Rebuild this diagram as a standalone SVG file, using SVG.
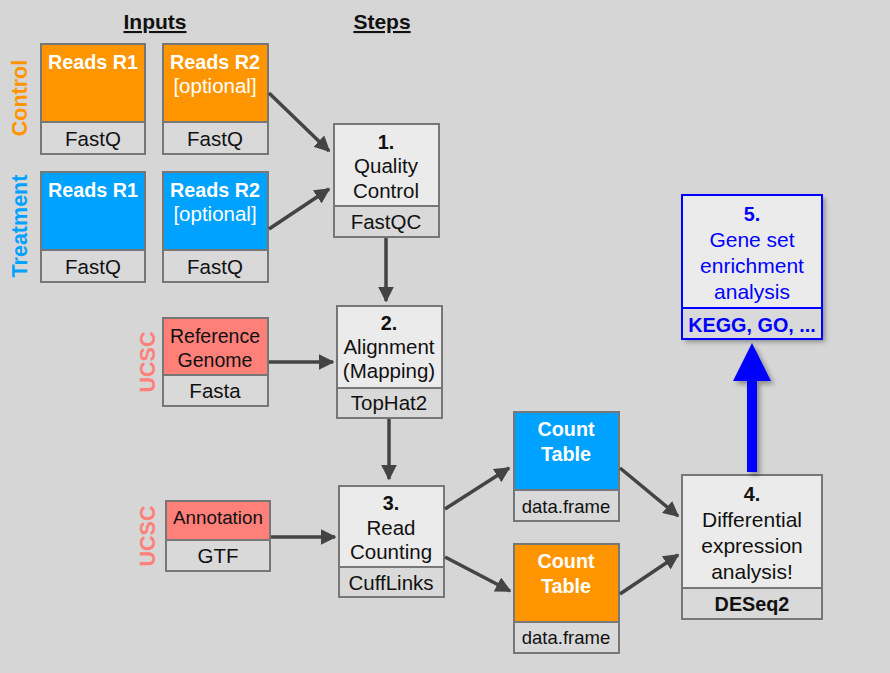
<svg xmlns="http://www.w3.org/2000/svg" width="890" height="673" viewBox="0 0 890 673">
<style>
text{font-family:"Liberation Sans",Arial,sans-serif;text-anchor:middle}
.t{font-size:20.5px;fill:#111}
.b{font-weight:bold;font-size:19.8px}
.w{fill:#fff}
.box{stroke:#777;stroke-width:2}
.top{fill:#ebebeb}
.bot{fill:#d9d9d9}
.or{fill:#ff9500}
.bl{fill:#00a2ff}
.sa{fill:#ff7f79}
.conn{stroke:#444;stroke-width:3.5;fill:none;marker-end:url(#ah)}
.blue{fill:#0000ff}
.v{font-weight:bold;font-size:21.5px}
</style>
<defs>
<marker id="ah" viewBox="0 0 10 10" refX="9" refY="5" markerWidth="4.5" markerHeight="4.5" orient="auto" markerUnits="strokeWidth">
<path d="M0,0 L10,5 L0,10 z" fill="#444"/>
</marker>
<filter id="sh" x="-20%" y="-20%" width="140%" height="140%">
<feDropShadow dx="3" dy="3" stdDeviation="2.5" flood-color="#000" flood-opacity="0.35"/>
</filter>
</defs>
<rect width="890" height="673" fill="#d6d6d6"/>

<g id="headers">
<text x="155" y="29" class="t b" style="font-size:21px;text-decoration:underline">Inputs</text>
<text x="382" y="29" class="t b" style="font-size:21px;text-decoration:underline">Steps</text>
<text transform="translate(27,98) rotate(-90)" class="v" style="fill:#ff9500">Control</text>
<text transform="translate(27,226) rotate(-90)" class="v" style="fill:#00a2ff">Treatment</text>
<text transform="translate(155,362) rotate(-90)" class="v" style="fill:#ff7f79">UCSC</text>
<text transform="translate(155,536) rotate(-90)" class="v" style="fill:#ff7f79">UCSC</text>
</g>

<g id="ctrl-r1">
<rect x="41" y="44" width="104" height="78" class="box or"/>
<rect x="41" y="122" width="104" height="32" class="box bot"/>
<text x="93" y="69" class="t b w">Reads R1</text>
<text x="93" y="146" class="t">FastQ</text>
</g>
<g id="ctrl-r2">
<rect x="163" y="44" width="105" height="78" class="box or"/>
<rect x="163" y="122" width="105" height="32" class="box bot"/>
<text x="215" y="69" class="t b w">Reads R2</text>
<text x="215" y="93" class="t w">[optional]</text>
<text x="215" y="146" class="t">FastQ</text>
</g>
<g id="treat-r1">
<rect x="41" y="172" width="104" height="78" class="box bl"/>
<rect x="41" y="250" width="104" height="32" class="box bot"/>
<text x="93" y="197" class="t b w">Reads R1</text>
<text x="93" y="274" class="t">FastQ</text>
</g>
<g id="treat-r2">
<rect x="163" y="172" width="105" height="78" class="box bl"/>
<rect x="163" y="250" width="105" height="32" class="box bot"/>
<text x="215" y="197" class="t b w">Reads R2</text>
<text x="215" y="221" class="t w">[optional]</text>
<text x="215" y="274" class="t">FastQ</text>
</g>

<g id="qc">
<rect x="334" y="124" width="105" height="82" class="box top"/>
<rect x="334" y="206" width="105" height="31" class="box bot"/>
<text x="386" y="149" class="t b">1.</text>
<text x="386" y="173" class="t">Quality</text>
<text x="386" y="198" class="t">Control</text>
<text x="386" y="229" class="t">FastQC</text>
</g>

<g id="refgenome">
<rect x="163" y="318" width="105" height="57" class="box sa"/>
<rect x="163" y="375" width="105" height="31" class="box bot"/>
<text x="215" y="343" class="t" style="font-size:19.5px">Reference</text>
<text x="215" y="367" class="t" style="font-size:19.5px">Genome</text>
<text x="215" y="398" class="t">Fasta</text>
</g>

<g id="alignment">
<rect x="337" y="306" width="105" height="82" class="box top"/>
<rect x="337" y="388" width="105" height="30" class="box bot"/>
<text x="389" y="330" class="t b">2.</text>
<text x="389" y="354" class="t">Alignment</text>
<text x="389" y="378" class="t">(Mapping)</text>
<text x="389" y="410" class="t">TopHat2</text>
</g>

<g id="annotation">
<rect x="166" y="501" width="104" height="39" class="box sa"/>
<rect x="166" y="540" width="104" height="31" class="box bot"/>
<text x="218" y="524" class="t" style="font-size:18.8px">Annotation</text>
<text x="218" y="563" class="t">GTF</text>
</g>

<g id="counting">
<rect x="339" y="486" width="105" height="81" class="box top"/>
<rect x="339" y="567" width="105" height="30" class="box bot"/>
<text x="391" y="510" class="t b">3.</text>
<text x="391" y="535" class="t">Read</text>
<text x="391" y="559" class="t">Counting</text>
<text x="391" y="590" class="t">CuffLinks</text>
</g>

<g id="count-blue">
<rect x="514" y="412" width="105" height="78" class="box bl"/>
<rect x="514" y="490" width="105" height="31" class="box bot"/>
<text x="566" y="436" class="t b w">Count</text>
<text x="566" y="461" class="t b w">Table</text>
<text x="566" y="513" class="t" style="font-size:18.5px">data.frame</text>
</g>

<g id="count-orange">
<rect x="514" y="544" width="105" height="78" class="box or"/>
<rect x="514" y="622" width="105" height="31" class="box bot"/>
<text x="566" y="568" class="t b w">Count</text>
<text x="566" y="593" class="t b w">Table</text>
<text x="566" y="644" class="t" style="font-size:18.5px">data.frame</text>
</g>

<g id="diffexp">
<rect x="682" y="475" width="140" height="113" class="box top"/>
<rect x="682" y="588" width="140" height="31" class="box bot"/>
<text x="752" y="501" class="t b">4.</text>
<text x="752" y="527" class="t" style="font-size:21px">Differential</text>
<text x="752" y="553" class="t" style="font-size:21px">expression</text>
<text x="752" y="579" class="t" style="font-size:21px">analysis!</text>
<text x="752" y="611" class="t b">DESeq2</text>
</g>

<g id="gsea">
<g filter="url(#sh)">
<rect x="682" y="195" width="140" height="144" fill="#ebebeb"/>
</g>
<rect x="682" y="195" width="140" height="113" fill="#ebebeb" stroke="#0000ff" stroke-width="2"/>
<rect x="682" y="308" width="140" height="31" fill="#d9d9d9" stroke="#0000ff" stroke-width="2"/>
<text x="752" y="221" class="t b blue">5.</text>
<text x="752" y="247" class="t blue" style="font-size:21px">Gene set</text>
<text x="752" y="273" class="t blue" style="font-size:21px">enrichment</text>
<text x="752" y="299" class="t blue" style="font-size:21px">analysis</text>
<text x="752" y="332" class="t b blue">KEGG, GO, ...</text>
</g>

<g id="connectors">
<line x1="269" y1="93" x2="329" y2="151" class="conn"/>
<line x1="269" y1="229" x2="329" y2="189" class="conn"/>
<line x1="386" y1="238" x2="386" y2="301" class="conn"/>
<line x1="269" y1="362" x2="333" y2="362" class="conn"/>
<line x1="389" y1="419" x2="389" y2="479" class="conn"/>
<line x1="271" y1="537" x2="335" y2="537" class="conn"/>
<line x1="445" y1="509" x2="509" y2="468" class="conn"/>
<line x1="445" y1="557" x2="510" y2="591" class="conn"/>
<line x1="620" y1="468" x2="678" y2="516" class="conn"/>
<line x1="620" y1="594" x2="678" y2="555" class="conn"/>
<g filter="url(#sh)">
<rect x="747" y="378" width="10" height="94" fill="#0000ff"/>
<polygon points="752,343 733,381 771,381" fill="#0000ff"/>
</g>
</g>
</svg>
